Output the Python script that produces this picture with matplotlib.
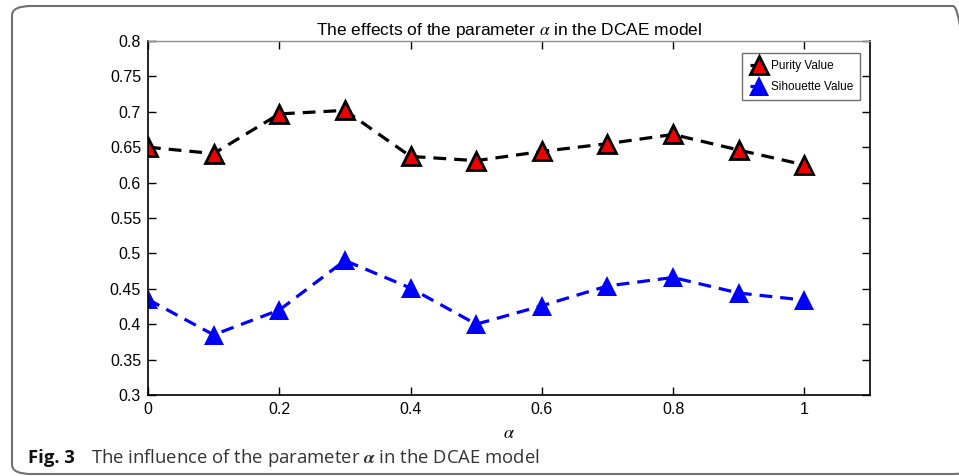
import matplotlib
matplotlib.use("Agg")
import matplotlib.pyplot as plt
from matplotlib.patches import FancyBboxPatch

alpha_vals = [0, 0.1, 0.2, 0.3, 0.4, 0.5, 0.6, 0.7, 0.8, 0.9, 1.0]
purity = [0.650, 0.641, 0.697, 0.702, 0.637, 0.631, 0.644, 0.655, 0.668, 0.646, 0.625]
silhouette = [0.435, 0.385, 0.420, 0.490, 0.451, 0.400, 0.426, 0.454, 0.466, 0.444, 0.434]

x_ticks = [0, 0.2, 0.4, 0.6, 0.8, 1]
x_ticklabels = ["0", "0.2", "0.4", "0.6", "0.8", "1"]
y_ticks = [0.3, 0.35, 0.4, 0.45, 0.5, 0.55, 0.6, 0.65, 0.7, 0.75, 0.8]
y_ticklabels = ["0.3", "0.35", "0.4", "0.45", "0.5", "0.55", "0.6", "0.65", "0.7", "0.75", "0.8"]

plt.rcParams["font.family"] = ["Liberation Sans", "DejaVu Sans"]
plt.rcParams["mathtext.fontset"] = "stix"

fig = plt.figure(figsize=(9.59, 4.76), dpi=100)

# rounded frame around the figure panel
frame = FancyBboxPatch((12 / 959, 2 / 476), 960 / 959, 468 / 476,
                       boxstyle="round,pad=0,rounding_size=0.02",
                       transform=fig.transFigure, fill=False,
                       edgecolor="#707070", linewidth=1.5, clip_on=False)
fig.patches.append(frame)

ax = fig.add_axes([148 / 959, 81 / 476, 722 / 959, 354 / 476])

ax.plot(alpha_vals, purity, linestyle=(0, (4, 2.5)), color="black", linewidth=2.3,
        marker="^", markersize=13, markerfacecolor="#ee0000",
        markeredgecolor="black", markeredgewidth=2, label="Purity Value")
ax.plot(alpha_vals, silhouette, linestyle=(0, (4, 2.5)), color="blue", linewidth=2.3,
        marker="^", markersize=14, markerfacecolor="blue",
        markeredgecolor="blue", markeredgewidth=0, label="Sihouette Value")

ax.set_xlim(0, 1.1)
ax.set_ylim(0.3, 0.8)
ax.set_xticks(x_ticks)
ax.set_xticklabels(x_ticklabels)
ax.set_yticks(y_ticks)
ax.set_yticklabels(y_ticklabels)
ax.tick_params(direction="in", length=6, width=1, labelsize=11.5, top=True, right=True,
               pad=5)
for s in ["left", "right", "bottom"]:
    ax.spines[s].set_linewidth(1.2)
ax.spines["top"].set_color("#909090")
ax.spines["top"].set_linewidth(1)

ax.set_title(r"The effects of the parameter $\alpha$ in the DCAE model", fontsize=12.5, pad=4)
ax.set_xlabel(r"$\alpha$", fontsize=13, labelpad=6)

leg = ax.legend(loc="upper right", bbox_to_anchor=(0.9945, 0.982), fontsize=8.5,
                handlelength=1.6, handletextpad=0.2, borderpad=0.6,
                labelspacing=0.75, fancybox=False, framealpha=1)
leg.get_frame().set_edgecolor("#707070")
leg.get_frame().set_linewidth(1)

fig.text(28 / 959, 1 - 458 / 476, "Fig. 3", fontsize=13.3, fontweight="bold",
         family=["Open Sans", "DejaVu Sans"], va="center", color="#111111")
fig.text(91 / 959, 1 - 458 / 476,
         r"The influence of the parameter $\boldsymbol{\alpha}$ in the DCAE model",
         fontsize=13.3, family=["Open Sans", "DejaVu Sans"], va="center", color="#333333")

fig.savefig("out.png", dpi=100)
